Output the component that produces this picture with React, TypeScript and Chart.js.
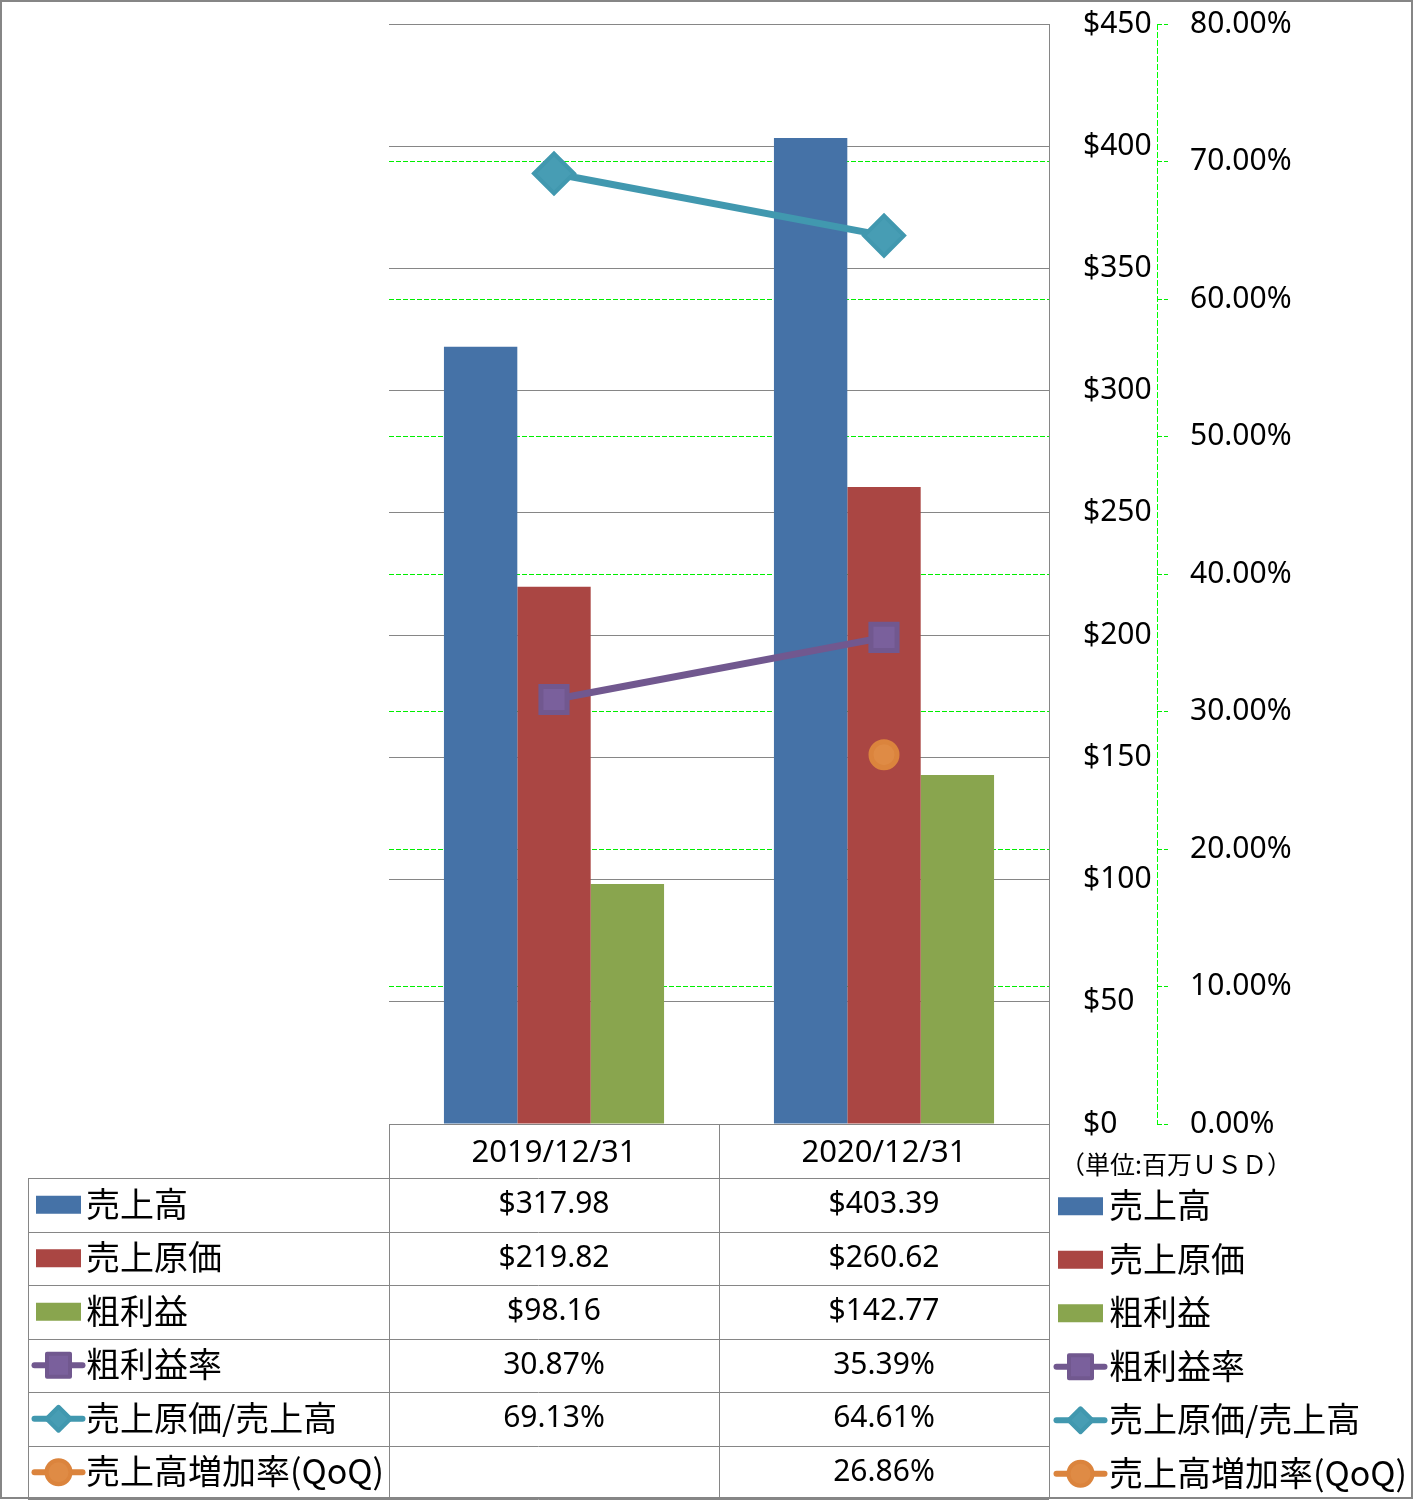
import { useEffect, useRef } from 'react';
import { Chart, registerables } from 'chart.js';

Chart.register(...registerables);

// ---------- data ----------
const categories = ['2019/12/31', '2020/12/31'];
const seriesNames = ['売上高', '売上原価', '粗利益', '粗利益率', '売上原価/売上高', '売上高増加率(QoQ)'];
const sales = [317.98, 403.39];
const costOfSales = [219.82, 260.62];
const grossProfit = [98.16, 142.77];
const grossMargin = [30.87, 35.39];
const costRatio = [69.13, 64.61];
const salesGrowth: (number | null)[] = [null, 26.86];
const leftAxisMax = 450;
const leftAxisStep = 50;
const rightAxisMax = 80;
const rightAxisStep = 10;
const unitLabel = '（単位:百万ＵＳＤ）';

// ---------- styles ----------
const BLUE = '#4572a7';
const RED = '#aa4643';
const GREEN = '#89a54e';
const PURPLE = '#71588f';
const TEAL = '#4198af';
const ORANGE = '#db843d';
const GRID_GRAY = '#868686';
const GRID_GREEN = '#00ee00';
const NUM_FONT = '"Noto Sans", sans-serif';
const JP_FONT = '"Noto Sans CJK JP", "Noto Sans", sans-serif';

type Kind = 'bar' | 'rect' | 'rectRot' | 'circle';
const legendKinds: Kind[] = ['bar', 'bar', 'bar', 'rect', 'rectRot', 'circle'];
const legendColors = [BLUE, RED, GREEN, PURPLE, TEAL, ORANGE];
const markerFills = [BLUE, RED, GREEN, '#7a609c', '#479db4', '#df8b45'];

const seriesValues: (number | null)[][] = [sales, costOfSales, grossProfit, grossMargin, costRatio, salesGrowth];
const seriesIsMoney = [true, true, true, false, false, false];

function drawLegendIcon(ctx: CanvasRenderingContext2D, kind: Kind, cx: number, cy: number, color: string, fill: string) {
  ctx.save();
  if (kind === 'bar') {
    ctx.fillStyle = color;
    ctx.fillRect(cx - 22.5, cy - 9, 45, 18);
  } else {
    ctx.strokeStyle = color;
    ctx.lineWidth = 6;
    ctx.lineCap = 'round';
    ctx.beginPath();
    ctx.moveTo(cx - 24, cy);
    ctx.lineTo(cx + 24, cy);
    ctx.stroke();
    ctx.fillStyle = fill;
    ctx.strokeStyle = color;
    ctx.lineWidth = 4;
    ctx.lineJoin = 'round';
    ctx.beginPath();
    if (kind === 'rect') {
      ctx.rect(cx - 11.5, cy - 11.5, 23, 23);
    } else if (kind === 'rectRot') {
      ctx.moveTo(cx, cy - 12);
      ctx.lineTo(cx + 12, cy);
      ctx.lineTo(cx, cy + 12);
      ctx.lineTo(cx - 12, cy);
      ctx.closePath();
    } else {
      ctx.arc(cx, cy, 12, 0, Math.PI * 2);
    }
    ctx.fill();
    ctx.stroke();
  }
  ctx.restore();
}

const tablePlugin = {
  id: 'tableAndLegend',
  afterDraw(chart: any) {
    const ctx: CanvasRenderingContext2D = chart.ctx;
    const xs = chart.scales.x;
    const y1 = chart.scales.y1;
    const area = chart.chartArea;
    const p0 = xs.getPixelForValue(0);
    const p1 = xs.getPixelForValue(1);
    const colW = p1 - p0;
    const colLines = [area.left, p0 + colW / 2, area.right];
    const legendLeft = 28;
    const headerBottom = xs.bottom;
    const tableBottom = 1499;
    const rows = seriesNames.length;
    const rowH = (tableBottom - headerBottom) / rows;

    ctx.save();
    // green dashed right axis line
    ctx.strokeStyle = '#00ff00';
    ctx.lineWidth = 1;
    ctx.setLineDash([6, 2]);
    ctx.beginPath();
    ctx.moveTo(Math.round(y1.left) + 0.5, area.top);
    ctx.lineTo(Math.round(y1.left) + 0.5, area.bottom);
    ctx.stroke();
    ctx.setLineDash([]);

    // table grid
    ctx.strokeStyle = GRID_GRAY;
    ctx.lineWidth = 1;
    ctx.beginPath();
    const hy = (v: number) => Math.round(v) + 0.5;
    ctx.moveTo(area.left, hy(area.bottom));
    ctx.lineTo(area.right, hy(area.bottom));
    for (let r = 0; r <= rows; r++) {
      const y = hy(headerBottom + r * rowH);
      ctx.moveTo(legendLeft, y);
      ctx.lineTo(area.right, y);
    }
    colLines.forEach((x) => {
      ctx.moveTo(hy(x), area.bottom);
      ctx.lineTo(hy(x), tableBottom);
    });
    ctx.moveTo(hy(legendLeft), headerBottom);
    ctx.lineTo(hy(legendLeft), tableBottom);
    ctx.moveTo(hy(area.right), area.top);
    ctx.lineTo(hy(area.right), area.bottom);
    ctx.stroke();

    // rows
    for (let r = 0; r < rows; r++) {
      const cy = headerBottom + r * rowH + rowH / 2;
      drawLegendIcon(ctx, legendKinds[r], 58.5, cy, legendColors[r], markerFills[r]);
      ctx.fillStyle = '#000';
      ctx.font = `34px ${JP_FONT}`;
      ctx.textAlign = 'left';
      ctx.textBaseline = 'middle';
      ctx.fillText(seriesNames[r], 86, cy - 1);
      ctx.font = `30px ${NUM_FONT}`;
      ctx.textAlign = 'center';
      seriesValues[r].forEach((v, i) => {
        if (v === null || v === undefined) return;
        const txt = seriesIsMoney[r] ? '$' + v.toFixed(2) : v.toFixed(2) + '%';
        ctx.fillText(txt, xs.getPixelForValue(i), cy);
      });
      // right legend
      const ly = cy + 1.5;
      drawLegendIcon(ctx, legendKinds[r], 1080.5, ly, legendColors[r], markerFills[r]);
      ctx.fillStyle = '#000';
      ctx.font = `34px ${JP_FONT}`;
      ctx.textAlign = 'left';
      ctx.fillText(seriesNames[r], 1109, ly - 1);
    }

    // unit label
    ctx.font = `25px ${JP_FONT}`;
    ctx.textAlign = 'left';
    ctx.textBaseline = 'middle';
    ctx.fillStyle = '#000';
    ctx.fillText(unitLabel, 1060, 1164);

    // outer border
    ctx.strokeStyle = GRID_GRAY;
    ctx.lineWidth = 2;
    ctx.strokeRect(1, 1, 1411, 1497);
    ctx.restore();
  },
};

export default function App() {
  const ref = useRef<HTMLCanvasElement>(null);
  useEffect(() => {
    const chart = new Chart(ref.current as HTMLCanvasElement, {
      type: 'bar',
      data: {
        labels: categories,
        datasets: [
          { type: 'bar', label: seriesNames[0], data: sales, backgroundColor: BLUE, yAxisID: 'y', order: 1, categoryPercentage: 0.667, barPercentage: 1 },
          { type: 'bar', label: seriesNames[1], data: costOfSales, backgroundColor: RED, yAxisID: 'y', order: 1, categoryPercentage: 0.667, barPercentage: 1 },
          { type: 'bar', label: seriesNames[2], data: grossProfit, backgroundColor: GREEN, yAxisID: 'y', order: 1, categoryPercentage: 0.667, barPercentage: 1 },
          {
            type: 'line', label: seriesNames[3], data: grossMargin, yAxisID: 'y1', order: 0,
            borderColor: PURPLE, borderWidth: 7, tension: 0,
            pointStyle: 'rect', pointRadius: 18.5, pointBorderWidth: 5,
            pointBackgroundColor: markerFills[3], pointBorderColor: PURPLE,
          },
          {
            type: 'line', label: seriesNames[4], data: costRatio, yAxisID: 'y1', order: 0,
            borderColor: TEAL, borderWidth: 7, tension: 0,
            pointStyle: 'rectRot', pointRadius: 20, pointBorderWidth: 4,
            pointBackgroundColor: markerFills[4], pointBorderColor: TEAL,
          },
          {
            type: 'line', label: seriesNames[5], data: salesGrowth, yAxisID: 'y1', order: 0,
            borderColor: ORANGE, borderWidth: 7, tension: 0,
            pointStyle: 'circle', pointRadius: 13, pointBorderWidth: 5,
            pointBackgroundColor: markerFills[5], pointBorderColor: ORANGE,
          },
        ] as any,
      },
      options: {
        responsive: false,
        animation: false,
        devicePixelRatio: 1,
        layout: { padding: { left: 389, top: 22, right: 0, bottom: 322 } },
        plugins: { legend: { display: false }, tooltip: { enabled: false } },
        scales: {
          x: {
            type: 'category',
            offset: true,
            grid: { display: false, drawTicks: false },
            border: { display: false },
            ticks: {
              color: '#000',
              padding: 11,
              maxRotation: 0,
              font: { family: NUM_FONT, size: 31 },
            },
            afterFit: (s: any) => { s.height = 54; },
          },
          y: {
            position: 'right',
            weight: 0,
            min: 0,
            max: leftAxisMax,
            grid: { color: GRID_GRAY, lineWidth: 1, drawTicks: false },
            border: { display: true, color: GRID_GRAY, width: 1 },
            ticks: {
              stepSize: leftAxisStep,
              color: '#000',
              padding: 34,
              crossAlign: 'near',
              font: { family: NUM_FONT, size: 30 },
              callback: (v: any) => '$' + v,
            },
            afterFit: (s: any) => { s.width = 108; s.paddingTop = 0; s.paddingBottom = 0; },
          },
          y1: {
            position: 'right',
            weight: 1,
            min: 0,
            max: rightAxisMax,
            grid: {
              color: (c: any) => (c.tick && c.tick.value >= rightAxisMax ? 'rgba(0,0,0,0)' : GRID_GREEN),
              lineWidth: 1, drawTicks: true, tickLength: 11,
              tickColor: GRID_GREEN, tickBorderDash: [5, 2], tickWidth: 1,
            },
            border: { display: false, dash: [5, 2] },
            ticks: {
              stepSize: rightAxisStep,
              color: '#000',
              padding: 22,
              crossAlign: 'near',
              font: { family: NUM_FONT, size: 30 },
              callback: (v: any) => Number(v).toFixed(2) + '%',
            },
            afterFit: (s: any) => { s.width = 259; s.paddingTop = 0; s.paddingBottom = 0; },
          },
        },
      } as any,
      plugins: [tablePlugin],
    });
    return () => chart.destroy();
  }, []);
  return (
    <div style={{ position: 'absolute', left: 0, top: 0, width: 1416, height: 1500, background: '#fff' }}>
      <canvas ref={ref} width={1416} height={1500} style={{ display: 'block', width: 1416, height: 1500 }} />
    </div>
  );
}
